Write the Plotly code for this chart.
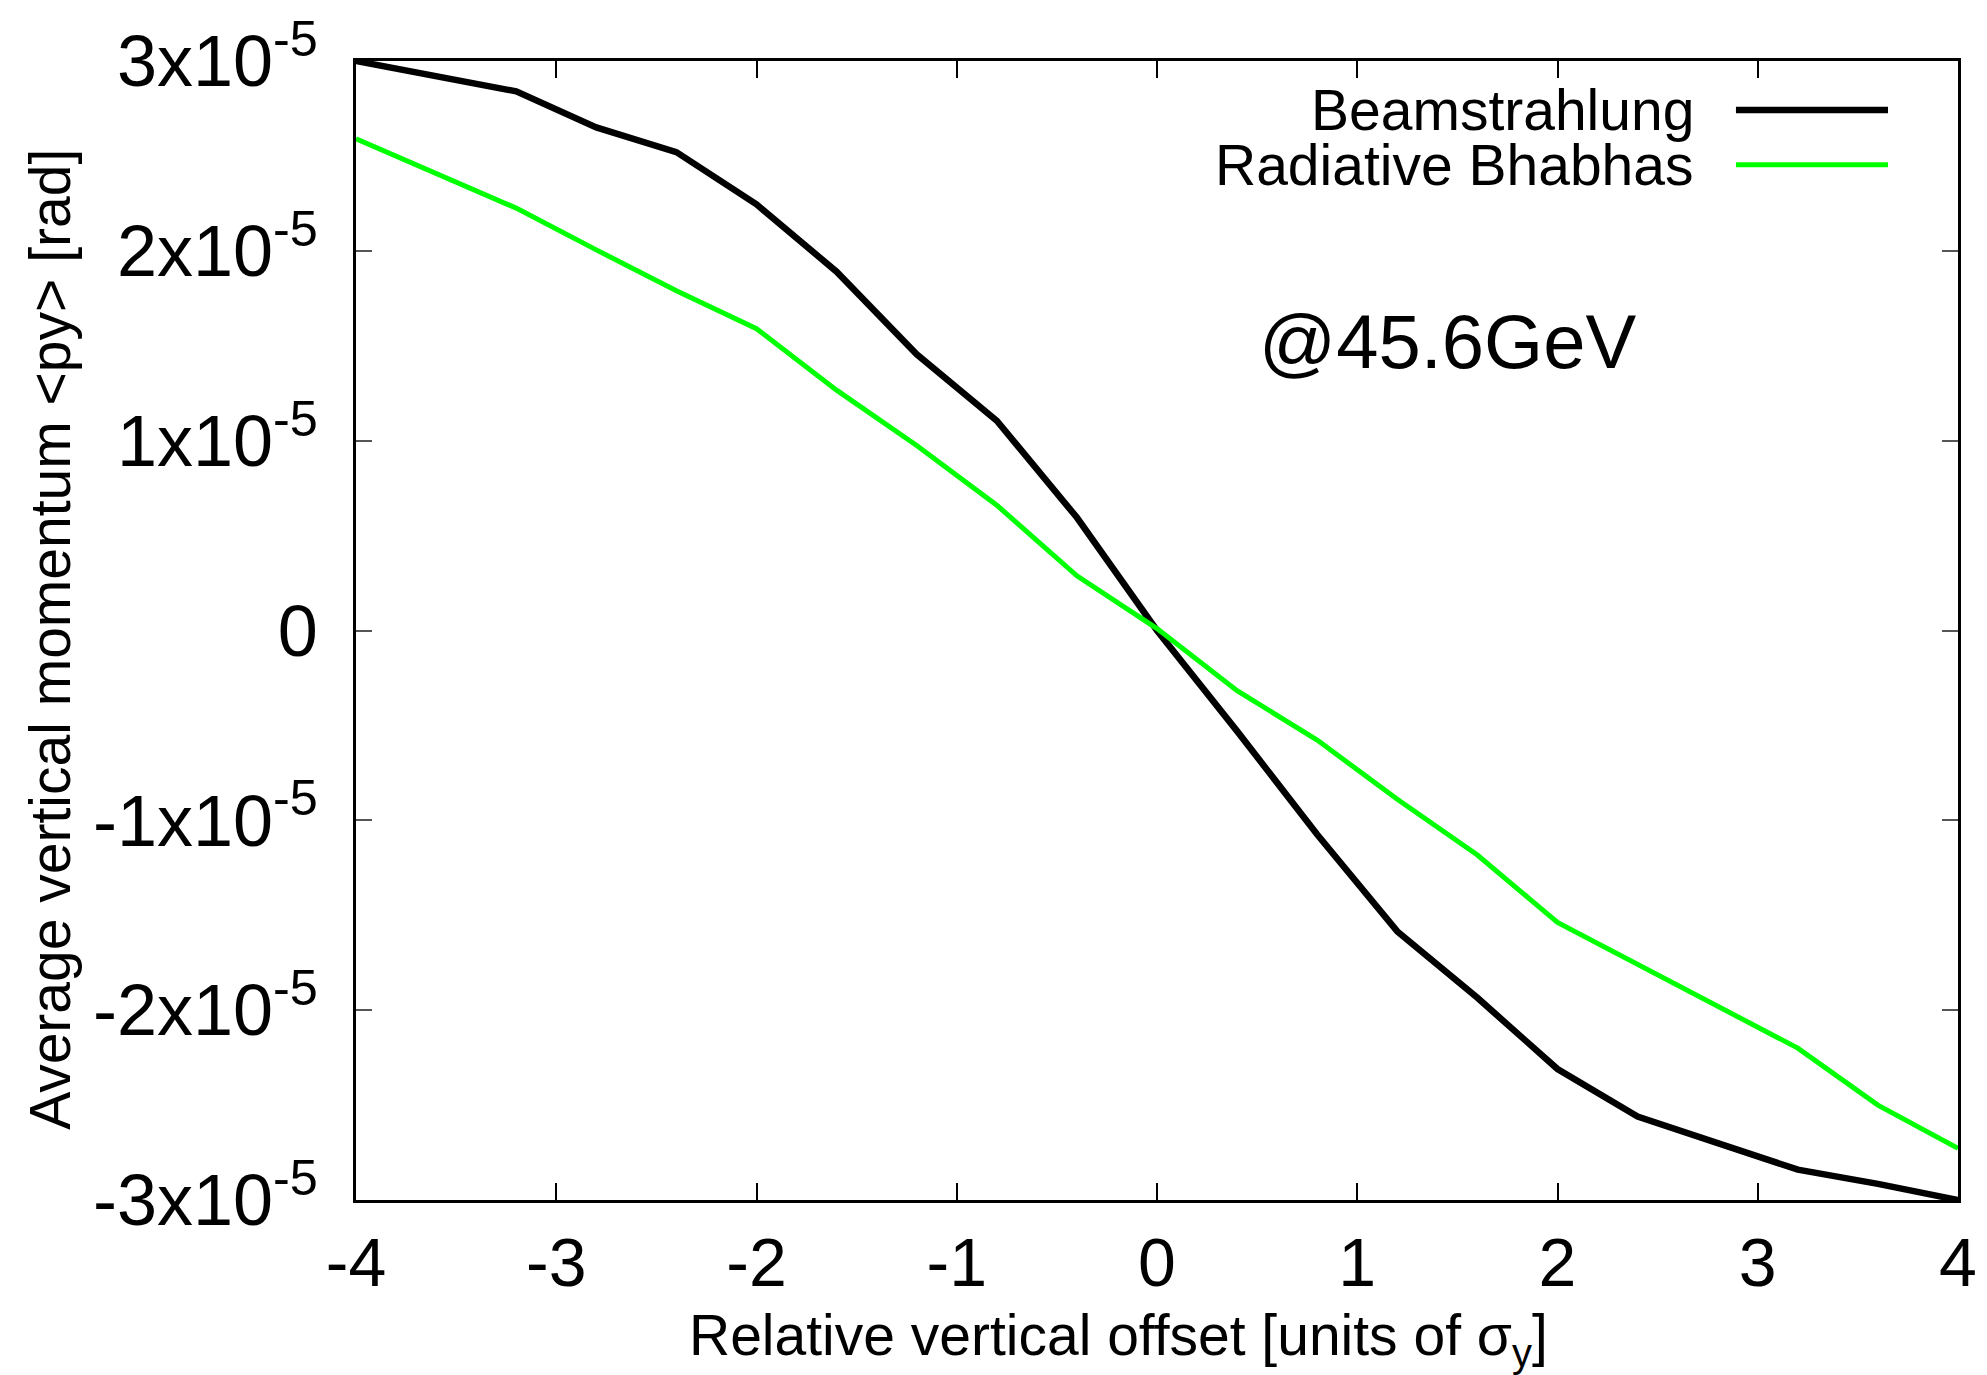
import plotly.graph_objects as go

# ---- data ----
offset = [-4.0, -3.6, -3.2, -2.8, -2.4, -2.0, -1.6, -1.2, -0.8, -0.4, 0.0,
          0.4, 0.8, 1.2, 1.6, 2.0, 2.4, 2.8, 3.2, 3.6, 4.0]
beamstrahlung = [3.0, 2.92, 2.84, 2.65, 2.52, 2.245, 1.89, 1.455, 1.105, 0.595, 0.0,
                 -0.53, -1.075, -1.585, -1.935, -2.31, -2.56, -2.70, -2.84, -2.915, -3.0]
rad_bhabhas = [2.59, 2.405, 2.225, 2.005, 1.79, 1.59, 1.266, 0.975, 0.66, 0.288, 0.01,
               -0.317, -0.577, -0.889, -1.183, -1.538, -1.76, -1.978, -2.20, -2.50, -2.728]
scale = 1e-5

series_names = ["Beamstrahlung", "Radiative Bhabhas"]
series_colors = ["#000000", "#00ff00"]
series_widths = [6.5, 5]

y_tickvals = [-3e-5, -2e-5, -1e-5, 0, 1e-5, 2e-5, 3e-5]
y_ticktext = ["-3x10<sup>-5</sup>", "-2x10<sup>-5</sup>", "-1x10<sup>-5</sup>", "0",
              "1x10<sup>-5</sup>", "2x10<sup>-5</sup>", "3x10<sup>-5</sup>"]
x_tickvals = [-4, -3, -2, -1, 0, 1, 2, 3, 4]

x_title = "Relative vertical offset [units of σ<sub>y</sub>]"
y_title = "Average vertical momentum &lt;py&gt; [rad]"
label_text = "@45.6GeV"

FONT = "Liberation Sans, Arial, Helvetica, sans-serif"

fig = go.Figure()
for name, vals, col, w in zip(series_names, [beamstrahlung, rad_bhabhas], series_colors, series_widths):
    fig.add_trace(go.Scatter(
        x=offset, y=[v * scale for v in vals], mode="lines", name=name,
        line=dict(color=col, width=w), showlegend=False))

# manual gnuplot-style legend (text left, sample line right)
leg_y = [0.957, 0.909]
for name, col, w, yy in zip(series_names, series_colors, series_widths, leg_y):
    fig.add_annotation(x=0.8365, y=yy, xref="paper", yref="paper", text=name,
                       showarrow=False, xanchor="right", yanchor="middle",
                       font=dict(family=FONT, size=57, color="black"))
    fig.add_shape(type="line", xref="paper", yref="paper", x0=0.8614, x1=0.9563,
                  y0=yy, y1=yy, line=dict(color=col, width=w))

fig.add_annotation(x=1.45, y=1.52e-5, xref="x", yref="y", text=label_text,
                   showarrow=False, xanchor="center", yanchor="middle",
                   font=dict(family=FONT, size=76, color="black"))

# axis titles
fig.add_annotation(x=0.4757, y=-0.1224, xref="paper", yref="paper", text=x_title,
                   showarrow=False, xanchor="center", yanchor="middle",
                   font=dict(family=FONT, size=57, color="black"))
fig.add_annotation(x=-0.1915, y=0.492, xref="paper", yref="paper", text=y_title,
                   textangle=-90, showarrow=False, xanchor="center", yanchor="middle",
                   font=dict(family=FONT, size=57, color="black"))

fig.update_layout(
    width=1987, height=1375,
    margin=dict(l=356, r=29, t=61, b=175, autoexpand=False),
    paper_bgcolor="white", plot_bgcolor="white",
    font=dict(family=FONT, color="black"),
)
fig.update_xaxes(
    range=[-4, 4], tickvals=x_tickvals, ticktext=[str(v) for v in x_tickvals],
    showgrid=False, zeroline=False, showline=True, linecolor="black", linewidth=2.5,
    mirror="allticks", ticks="inside", ticklen=17, tickwidth=2, tickcolor="black",
    tickfont=dict(family=FONT, size=68), ticklabelstandoff=2,
)
fig.update_yaxes(
    range=[-3e-5, 3e-5], tickvals=y_tickvals, ticktext=y_ticktext,
    showgrid=False, zeroline=False, showline=True, linecolor="black", linewidth=2.5,
    mirror="allticks", ticks="inside", ticklen=16, tickwidth=2, tickcolor="#555555",
    tickfont=dict(family=FONT, size=72), ticklabelstandoff=21,
)

fig.write_html("out.html")
